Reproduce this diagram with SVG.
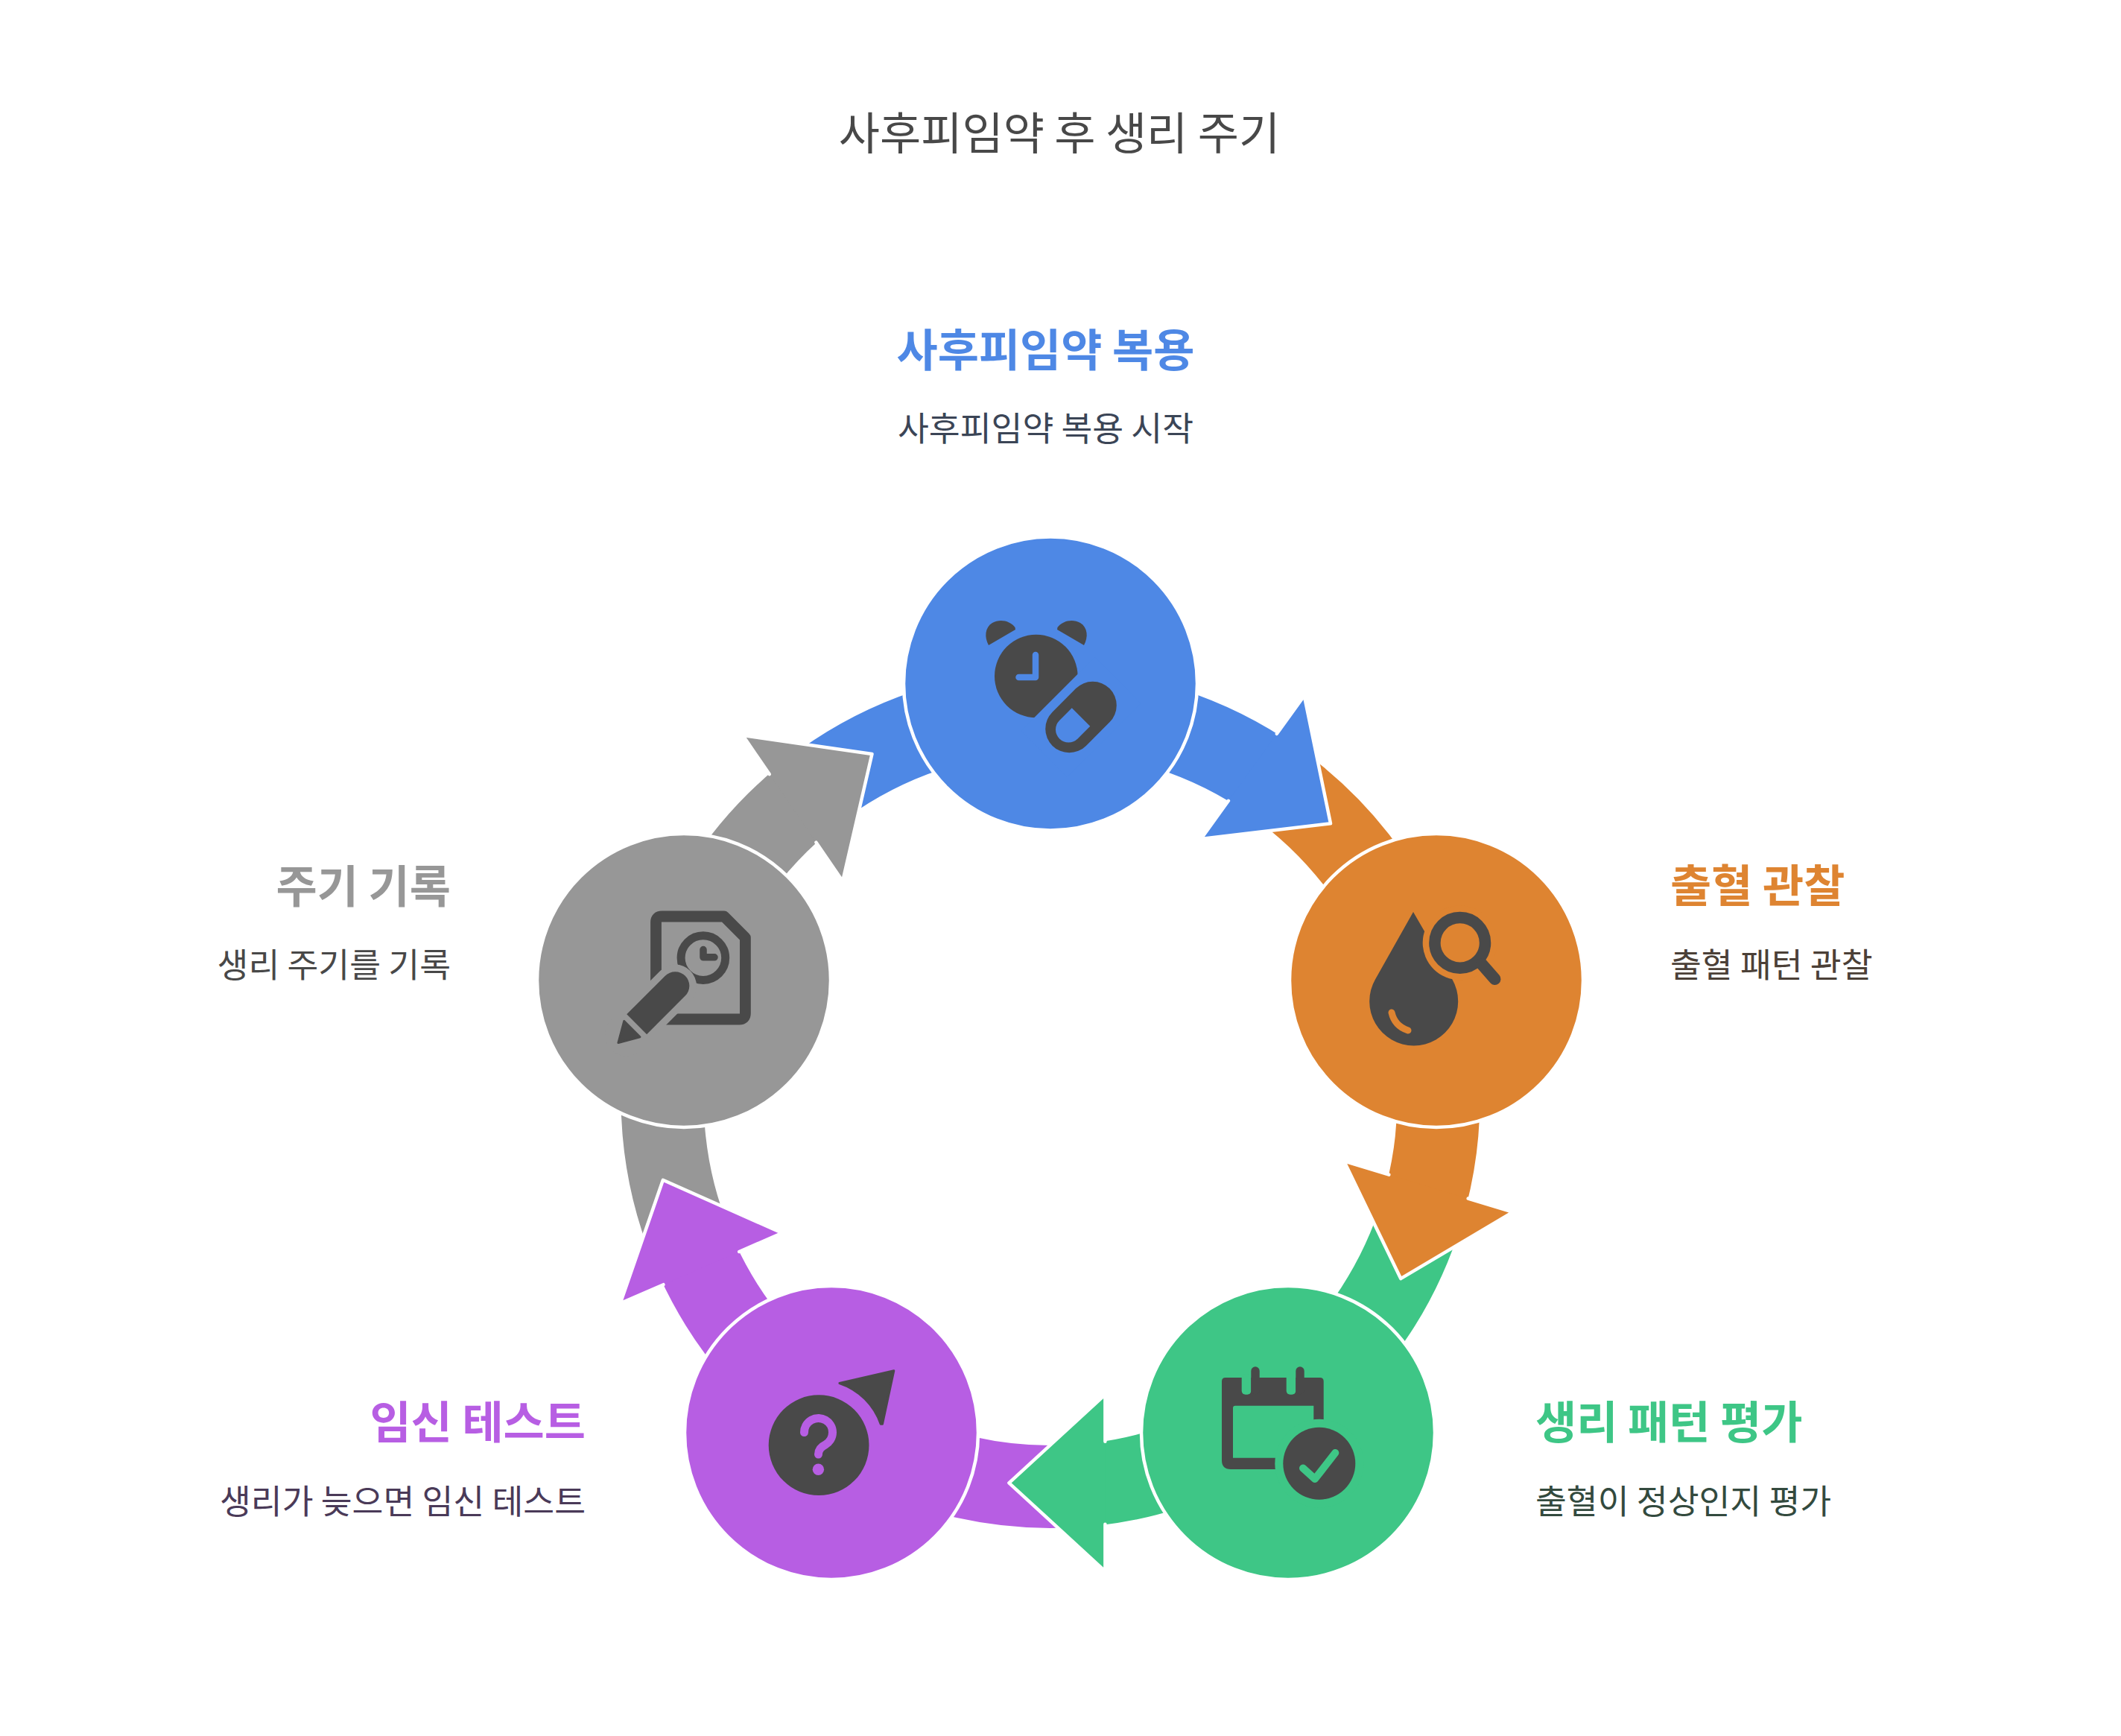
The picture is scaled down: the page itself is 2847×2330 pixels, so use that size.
<svg xmlns="http://www.w3.org/2000/svg" width="2847" height="2330" viewBox="0 0 2847 2330">
<style>
text { font-family: "Noto Sans CJK KR", "Noto Sans", sans-serif; }
.title { font-size: 60px; fill: #484848; }
.lbl { font-size: 60px; font-weight: 700; }
.sub { font-size: 45.5px; }
.band { fill: none; stroke-width: 111; stroke-linecap: butt; }
.hl { fill: none; stroke: #ffffff; stroke-width: 4.5; stroke-linejoin: round; stroke-linecap: round; }
.node { stroke: #ffffff; stroke-width: 4.5; }
.ic { fill: #494949; }
</style>
<rect width="2847" height="2330" fill="#ffffff"/>
<text class="title" x="1422" y="201" text-anchor="middle">사후피임약 후 생리 주기</text>

<g id="connectors">
  <path class="band" stroke="#4E88E5" d="M1089.2,1064.0 A521,521 0 0 1 1693.0,1037.1"/>
  <path class="band" stroke="#DE8431" d="M1708.8,1047.7 A521,521 0 0 1 1914.2,1605.8"/>
  <path class="band" stroke="#3EC686" d="M1909.0,1624.2 A521,521 0 0 1 1469.9,1992.1"/>
  <path class="band" stroke="#B75EE3" d="M1450.9,1993.9 A521,521 0 0 1 935.5,1689.7"/>
  <path class="band" stroke="#979797" d="M928.0,1672.2 A521,521 0 0 1 1074.4,1076.0"/>

  <g id="head-blue">
    <polygon fill="#4E88E5" points="1612.1,1125.9 1786.0,1105.3 1750.7,933.7"/>
    <polyline class="hl" points="1648.9,1074.8 1612.1,1125.9 1786.0,1105.3 1750.7,933.7 1713.9,984.8"/>
  </g>
  <g id="head-orange">
    <polygon fill="#DE8431" points="1804.1,1558.4 1880.2,1716.1 2030.9,1626.8"/>
    <polyline class="hl" points="1864.4,1576.6 1804.1,1558.4 1880.2,1716.1 2030.9,1626.8 1970.6,1608.6"/>
  </g>
  <g id="head-green">
    <polygon fill="#3EC686" points="1483.4,1871.8 1354.4,1990.3 1483.4,2108.8"/>
    <polyline class="hl" points="1483.4,1934.8 1483.4,1871.8 1354.4,1990.3 1483.4,2108.8 1483.4,2045.8"/>
  </g>
  <g id="head-purple">
    <polygon fill="#B75EE3" points="1050.0,1654.9 889.9,1583.8 832.6,1749.3"/>
    <polyline class="hl" points="992.2,1680.0 1050.0,1654.9 889.9,1583.8 832.6,1749.3 890.4,1724.2"/>
  </g>
  <g id="head-grey">
    <polygon fill="#979797" points="1131.1,1182.7 1170.5,1012.0 997.1,987.1"/>
    <polyline class="hl" points="1095.5,1130.7 1131.1,1182.7 1170.5,1012.0 997.1,987.1 1032.7,1039.1"/>
  </g>
</g>

<g id="node-take-pill">
  <circle class="node" cx="1410" cy="917.5" r="197" fill="#4E88E5"/>
  <circle class="ic" cx="1390.8" cy="907.5" r="55.8"/>
  <path class="ic" d="M1327,866 C1321,855 1322,842 1332,836 C1342,830 1356,833 1362.5,842 L1363,845 Z"/>
  <path class="ic" transform="translate(2782,0) scale(-1,1)" d="M1327,866 C1321,855 1322,842 1332,836 C1342,830 1356,833 1362.5,842 L1363,845 Z"/>
  <g transform="translate(1451,962.5) rotate(-45)">
    <rect x="-70" y="-44" width="140" height="88" fill="#4E88E5"/>
    <rect class="ic" x="-54.3" y="-32" width="108.6" height="64" rx="32"/>
    <path fill="#4E88E5" d="M0,-17.3 H-23.6 A17.3,17.3 0 0 0 -23.6,17.3 H0 Z"/>
  </g>
  <path d="M1390,879 V909 H1367.5" fill="none" stroke="#4E88E5" stroke-width="8.5" stroke-linecap="round" stroke-linejoin="round"/>
  <text class="lbl" x="1403.5" y="492" text-anchor="middle" fill="#4E88E5">사후피임약 복용</text>
  <text class="sub" x="1403.5" y="592" text-anchor="middle" fill="#3B4556">사후피임약 복용 시작</text>
</g>

<g id="node-observe-bleeding">
  <circle class="node" cx="1928" cy="1316" r="197" fill="#DE8431"/>
  <path class="ic" d="M1897,1224 L1846,1314.5 A59.5,59.5 0 1 0 1949.4,1314.5 Z"/>
  <circle cx="1959.7" cy="1265.4" r="50" fill="#DE8431"/>
  <circle cx="1959.7" cy="1265.4" r="33.8" fill="none" stroke="#494949" stroke-width="15.5"/>
  <path d="M1989,1294 L2006.5,1314" stroke="#494949" stroke-width="16" stroke-linecap="round"/>
  <path d="M1868,1359 Q1872,1377 1890,1383" fill="none" stroke="#DE8431" stroke-width="9" stroke-linecap="round"/>
  <text class="lbl" x="2242" y="1211" fill="#DE8431">출혈 관찰</text>
  <text class="sub" x="2242" y="1312" fill="#4B4037">출혈 패턴 관찰</text>
</g>

<g id="node-evaluate-pattern">
  <circle class="node" cx="1729" cy="1923" r="197" fill="#3EC686"/>
  <path class="ic" fill-rule="evenodd" d="M1645,1849 H1771.7 Q1776.7,1849 1776.7,1854 V1972 H1652 Q1640,1972 1640,1960 V1854 Q1640,1849 1645,1849 Z M1658,1886.7 H1763.3 V1956.7 H1655 V1889.7 Q1655,1886.7 1658,1886.7 Z"/>
  <rect x="1666.7" y="1844" width="12.6" height="27.7" rx="5" fill="#3EC686"/>
  <rect x="1726.7" y="1844" width="12.6" height="27.7" rx="5" fill="#3EC686"/>
  <rect class="ic" x="1679.3" y="1834.3" width="11.4" height="37.4" rx="5.7"/>
  <rect class="ic" x="1739.3" y="1834.3" width="11.4" height="37.4" rx="5.7"/>
  <circle cx="1770.8" cy="1964.2" r="59.5" fill="#3EC686"/>
  <circle class="ic" cx="1770.8" cy="1964.2" r="48.5"/>
  <path d="M1749,1970.5 L1765,1985 L1792.3,1950" fill="none" stroke="#3EC686" stroke-width="10" stroke-linecap="round" stroke-linejoin="round"/>
  <text class="lbl" x="2061" y="1931" fill="#3EC686">생리 패턴 평가</text>
  <text class="sub" x="2061" y="2032" fill="#334A3E">출혈이 정상인지 평가</text>
</g>

<g id="node-pregnancy-test">
  <circle class="node" cx="1116" cy="1923" r="197" fill="#B75EE3"/>
  <circle class="ic" cx="1099.1" cy="1939.7" r="67.4"/>
  <path d="M1079.5,1922.5 A19,19 0 1 1 1108,1939 Q1098.5,1943.5 1098.5,1952" fill="none" stroke="#B75EE3" stroke-width="11" stroke-linecap="round" stroke-linejoin="round"/>
  <circle cx="1098.4" cy="1972.3" r="7.7" fill="#B75EE3"/>
  <path class="ic" stroke="#494949" stroke-width="3" stroke-linejoin="round" d="M1126.9,1856.5 L1199.8,1839.8 L1184.5,1911.3 L1182.2,1911.3 A88,88 0 0 0 1126.9,1856.5 Z"/>
  <text class="lbl" x="786" y="1931" text-anchor="end" fill="#B75EE3">임신 테스트</text>
  <text class="sub" x="786" y="2032" text-anchor="end" fill="#4A3A58">생리가 늦으면 임신 테스트</text>
</g>

<g id="node-record-cycle">
  <circle class="node" cx="918" cy="1316" r="197" fill="#979797"/>
  <path d="M880.5,1330 V1238 Q880.5,1230 888.5,1230 H972 L1000.4,1258.4 V1360 Q1000.4,1368 992.4,1368 H870" fill="none" stroke="#494949" stroke-width="14.8" stroke-linejoin="round"/>
  <circle cx="943.9" cy="1285.6" r="29.8" fill="none" stroke="#494949" stroke-width="11"/>
  <path d="M944,1274.5 V1284.8 H959" fill="none" stroke="#494949" stroke-width="9.5" stroke-linecap="round" stroke-linejoin="round"/>
  <path d="M840.6,1388.9 L906.4,1323.1" stroke="#979797" stroke-width="57" stroke-linecap="round"/>
  <g transform="translate(854.7,1374.8) rotate(-45)">
    <path class="ic" d="M0,-19 H73 A19,19 0 0 1 73,19 H0 Z"/>
    <path class="ic" stroke="#494949" stroke-width="3" stroke-linejoin="round" d="M-9,-15 L-9,15 L-35,0 Z"/>
  </g>
  <text class="lbl" x="605" y="1212" text-anchor="end" fill="#979797">주기 기록</text>
  <text class="sub" x="605" y="1312" text-anchor="end" fill="#484848">생리 주기를 기록</text>
</g>
</svg>
